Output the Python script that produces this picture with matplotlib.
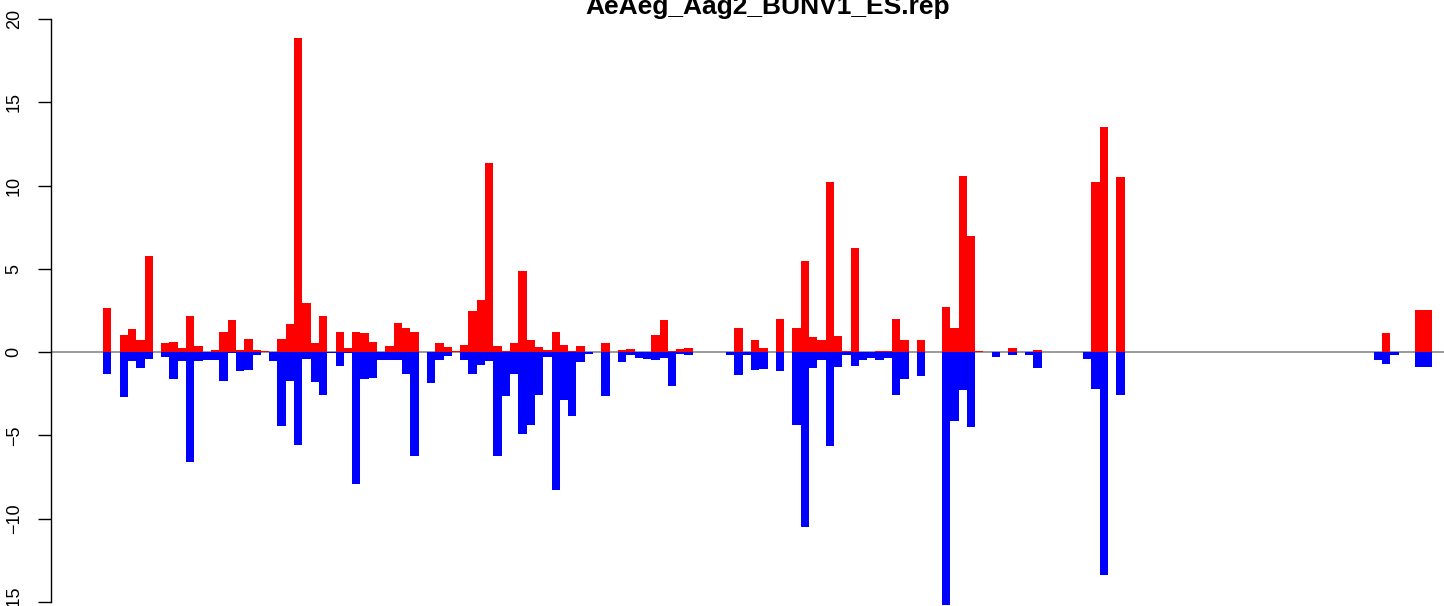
import matplotlib
matplotlib.use("Agg")
import matplotlib.pyplot as plt
import numpy as np

title = "AeAeg_Aag2_BUNV1_ES.rep"

pos_values = [
    2.64, 0, 1.02, 1.38, 0.72, 5.76, 0, 0.54, 0.60, 0.24,
    2.16, 0.36, 0, 0.12, 1.20, 1.92, 0.12, 0.78, 0.12, 0.06,
    0, 0.78, 1.68, 18.85, 2.94, 0.54, 2.16, 0, 1.20, 0.26,
    1.20, 1.14, 0.60, 0, 0.36, 1.74, 1.44, 1.20, 0, 0.02,
    0.54, 0.30, 0.08, 0.42, 2.46, 3.12, 11.35, 0.36, 0.08, 0.54,
    4.86, 0.72, 0.30, 0.12, 1.20, 0.42, 0.06, 0.36, 0, 0.02,
    0.54, 0, 0.12, 0.18, 0.02, 0, 1.02, 1.92, 0.06, 0.18,
    0.24, 0, 0, 0, 0, 0, 1.44, 0, 0.72, 0.24,
    0, 1.98, 0, 1.44, 5.46, 0.90, 0.72, 10.20, 0.96, 0.06,
    6.24, 0, 0.02, 0.06, 0.06, 1.98, 0.72, 0.02, 0.72, 0,
    0, 2.70, 1.44, 10.56, 6.96, 0.06, 0, 0, 0, 0.24,
    0, 0, 0.12, 0, 0, 0.02, 0, 0, 0, 10.20,
    13.50, 0, 10.50, 0, 0, 0, 0, 0, 0, 0,
    0, 0, 0, 0, 0, 0, 0, 0, 0, 0,
    0, 0, 0, 0, 0, 0, 0, 0, 0, 0,
    0, 0, 0, 0, 1.14, 0, 0, 0, 2.52, 2.52,
]

neg_values = [
    -1.32, 0, -2.68, -0.52, -0.94, -0.40, 0, -0.28, -1.60, -0.52,
    -6.58, -0.52, -0.46, -0.46, -1.72, -0.08, -1.12, -1.06, -0.16, 0,
    -0.52, -4.42, -1.72, -5.56, -0.40, -1.78, -2.56, -0.05, -0.84, -0.05,
    -7.90, -1.60, -1.54, -0.46, -0.46, -0.46, -1.30, -6.22, -0.02, -1.84,
    -0.46, -0.22, 0, -0.46, -1.30, -0.76, -0.52, -6.22, -2.62, -1.30,
    -4.90, -4.36, -2.56, -0.28, -8.26, -2.86, -3.82, -0.58, -0.10, 0,
    -2.62, 0, -0.58, -0.16, -0.34, -0.40, -0.46, -0.34, -2.02, -0.10,
    -0.16, 0, 0, 0, 0, -0.16, -1.36, -0.16, -1.06, -1.00,
    0, -1.12, 0, -4.36, -10.50, -0.94, -0.46, -5.62, -0.88, -0.18,
    -0.82, -0.46, -0.34, -0.46, -0.34, -2.56, -1.60, 0, -1.42, 0,
    0, -15.20, -4.12, -2.26, -4.48, 0, 0, -0.28, 0, -0.16,
    0, -0.16, -0.94, 0, 0, 0, 0, 0, -0.40, -2.20,
    -13.40, 0, -2.56, 0, 0, 0, 0, 0, 0, 0,
    0, 0, 0, 0, 0, 0, 0, 0, 0, 0,
    0, 0, 0, 0, 0, 0, 0, 0, 0, 0,
    0, 0, 0, -0.48, -0.72, -0.18, 0, 0, -0.90, -0.90,
]

y_ticks = [-15, -10, -5, 0, 5, 10, 15, 20]

W, H = 1444, 606
fig = plt.figure(figsize=(W / 100, H / 100), dpi=100)
plt.rcParams['font.family'] = ['Liberation Sans', 'DejaVu Sans']

left_px = 51
ax = fig.add_axes([left_px / W, 0, (W - left_px) / W, 1])

n = len(pos_values)
x = np.arange(n)
ax.bar(x, pos_values, width=1.0, align='edge', color='#FF0000', linewidth=0,
       antialiased=False, zorder=3)
ax.bar(x, neg_values, width=1.0, align='edge', color='#0000FF', linewidth=0,
       antialiased=False, zorder=3)
ax.axhline(0, color='#9a9a9a', lw=1.4, zorder=1)

px_per_bar = (1432 - 103) / n
x0 = -(103 - left_px) / px_per_bar
x1 = x0 + (W - left_px) / px_per_bar
ax.set_xlim(x0, x1)

px_per_unit = (352 - 19) / 20.0
ax.set_ylim(-(H - 352) / px_per_unit, 352 / px_per_unit)

for s in ['top', 'right', 'bottom']:
    ax.spines[s].set_visible(False)
ax.spines['left'].set_bounds(-15, 20)
ax.spines['left'].set_linewidth(1.0)
ax.set_xticks([])
ax.set_yticks(y_ticks)
ax.set_yticklabels([str(t).replace('-', '\u2212') for t in y_ticks],
                   rotation=90, va='center', fontsize=13)
ax.tick_params(axis='y', length=9.4, width=1.0, pad=11)
ax.patch.set_alpha(0)

fig.text(767.5 / W, 1 - 14 / H, title, ha='center', va='baseline',
         fontsize=19, fontweight='bold')

fig.savefig('out.png', dpi=100)
